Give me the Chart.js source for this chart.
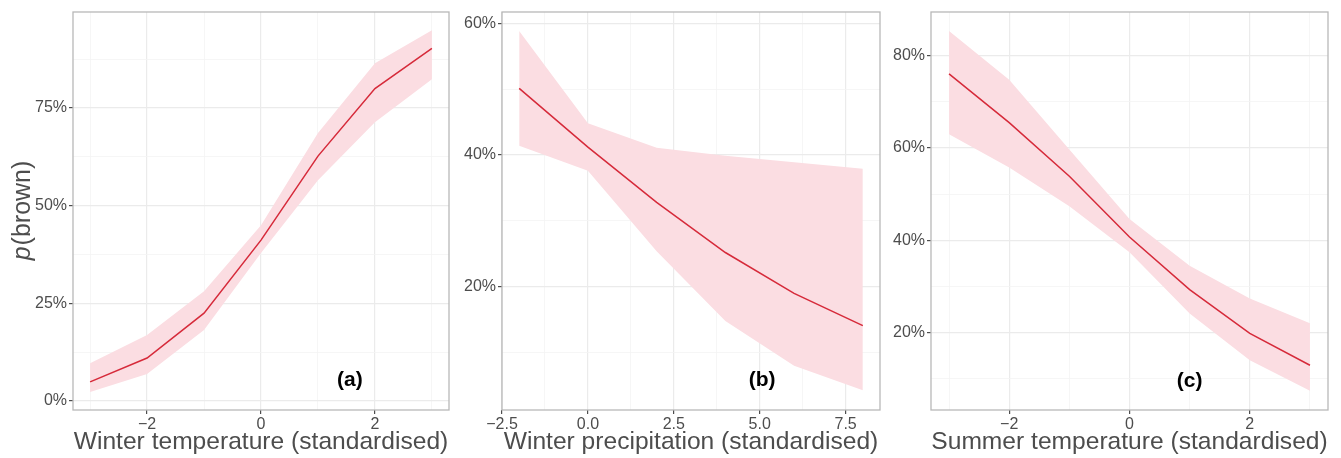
<!DOCTYPE html>
<html>
<head>
<meta charset="utf-8">
<script src="https://cdn.jsdelivr.net/npm/chart.js@4"></script>
<style>
  body { margin: 0; background: #fff; width: 1341px; height: 458px; overflow: hidden; position: relative; }
  .panel { position: absolute; top: 0; height: 458px; }
</style>
</head>
<body>
<div class="panel" style="left:0;width:455px"><canvas id="chartA"></canvas></div>
<div class="panel" style="left:452px;width:434px"><canvas id="chartB"></canvas></div>
<div class="panel" style="left:886px;width:455px"><canvas id="chartC"></canvas></div>
<script>
// (a) winter temperature
const winterTempX = [-3, -2, -1, 0, 1, 2, 3];
const winterTempFit = [4.9, 11.0, 22.5, 41.2, 62.7, 80.0, 90.3];
const winterTempUpper = [9.7, 16.9, 28.1, 45.0, 68.6, 86.5, 94.9];
const winterTempLower = [2.3, 6.9, 18.2, 37.9, 56.5, 71.4, 82.4];

// (b) winter precipitation
const winterPrecX = [-2, 0, 2, 4, 6, 8];
const winterPrecFit = [50.1, 41.2, 32.8, 25.2, 19.0, 14.1];
const winterPrecUpper = [58.8, 44.8, 41.1, 39.9, 38.9, 37.9];
const winterPrecLower = [41.4, 37.6, 25.4, 14.8, 8.0, 4.3];

// (c) summer temperature
const summerTempX = [-3, -2, -1, 0, 1, 2, 3];
const summerTempFit = [76.1, 65.5, 53.9, 40.7, 29.3, 19.8, 12.9];
const summerTempUpper = [85.4, 74.8, 59.7, 44.6, 34.5, 27.4, 22.0];
const summerTempLower = [63.0, 55.8, 47.4, 37.4, 24.1, 14.0, 7.4];

const xTicksA = [-2, 0, 2];
const yTicksA = [0, 25, 50, 75];
const xTicksB = [-2.5, 0, 2.5, 5, 7.5];
const yTicksB = [20, 40, 60];
const xTicksC = [-2, 0, 2];
const yTicksC = [20, 40, 60, 80];

const FONT = "'Liberation Sans', Arial, sans-serif";
const LINE = "#d62a3a";
const RIBBON = "#fbdde2";

function pts(xs, ys) {
  return xs.map((x, i) => ({ x: x, y: ys[i] }));
}
function isMajor(v, list) {
  return list.some(t => Math.abs(t - v) < 1e-6);
}
function fmtNum(v, dec) {
  const s = Math.abs(v).toFixed(dec);
  return v < -1e-9 ? "\u2212" + s : s;
}

// box round the panel, y title and the (a)/(b)/(c) tag
const panelDecor = {
  id: "panelDecor",
  afterDraw(chart, args, opts) {
    const ctx = chart.ctx;
    const a = chart.chartArea;
    ctx.save();
    ctx.strokeStyle = "#b8b8b8";
    ctx.lineWidth = 1.3;
    ctx.strokeRect(a.left, a.top, a.right - a.left, a.bottom - a.top);
    const px = chart.scales.x.getPixelForValue(opts.tagX);
    const py = chart.scales.y.getPixelForValue(opts.tagY);
    ctx.fillStyle = "#000";
    ctx.font = "bold 21px " + FONT;
    ctx.textAlign = "center";
    ctx.textBaseline = "middle";
    ctx.fillText(opts.tag, px, py);
    if (opts.yTitle) {
      ctx.translate(23, (a.top + a.bottom) / 2);
      ctx.rotate(-Math.PI / 2);
      ctx.fillStyle = "#4d4d4d";
      ctx.textBaseline = "middle";
      ctx.textAlign = "left";
      ctx.font = "italic 25px " + FONT;
      const w1 = ctx.measureText("p").width;
      ctx.font = "25px " + FONT;
      const w2 = ctx.measureText("(brown)").width;
      const start = -(w1 + w2) / 2;
      ctx.font = "italic 25px " + FONT;
      ctx.fillText("p", start, 0);
      ctx.font = "25px " + FONT;
      ctx.fillText("(brown)", start + w1 + 1, 0);
    }
    ctx.restore();
  }
};

function makePanel(id, cfg) {
  return new Chart(document.getElementById(id), {
    type: "line",
    data: {
      datasets: [
        {
          data: pts(cfg.xs, cfg.upper),
          borderWidth: 0,
          pointRadius: 0,
          backgroundColor: RIBBON,
          fill: "+1",
          tension: 0,
          order: 2
        },
        {
          data: pts(cfg.xs, cfg.lower),
          borderWidth: 0,
          pointRadius: 0,
          fill: false,
          order: 2
        },
        {
          data: pts(cfg.xs, cfg.fit),
          borderColor: LINE,
          borderWidth: 1.5,
          pointRadius: 0,
          fill: false,
          tension: 0,
          order: 1
        }
      ]
    },
    options: {
      responsive: true,
      maintainAspectRatio: false,
      animation: false,
      layout: { padding: { left: cfg.padLeft, right: cfg.padRight, top: 12, bottom: 0 } },
      plugins: {
        legend: { display: false },
        tooltip: { enabled: false },
        panelDecor: { tag: cfg.tag, tagX: cfg.tagX, tagY: cfg.tagY, yTitle: cfg.yTitle }
      },
      scales: {
        x: {
          type: "linear",
          min: cfg.xMin,
          max: cfg.xMax,
          afterFit: s => { s.height = 48; },
          border: { display: false },
          grid: {
            color: c => isMajor(c.tick.value, cfg.xTicks) ? "#ebebeb" : "#f4f4f4",
            lineWidth: c => isMajor(c.tick.value, cfg.xTicks) ? 1.2 : 0.8,
            tickColor: c => isMajor(c.tick.value, cfg.xTicks) ? "#4d4d4d" : "rgba(0,0,0,0)",
            tickLength: 4
          },
          ticks: {
            stepSize: cfg.xStep,
            includeBounds: false,
            autoSkip: false,
            maxRotation: 0,
            padding: 1,
            color: "#4d4d4d",
            font: { family: FONT, size: 16 },
            callback: v => isMajor(v, cfg.xTicks) ? fmtNum(v, cfg.xDec) : ""
          },
          title: {
            display: true,
            text: cfg.xTitle,
            color: "#4d4d4d",
            font: { family: FONT, size: 24.6 },
            padding: { top: 0, bottom: 1 }
          }
        },
        y: {
          type: "linear",
          min: cfg.yMin,
          max: cfg.yMax,
          afterFit: s => { s.width = cfg.yWidth; },
          border: { display: false },
          grid: {
            color: c => isMajor(c.tick.value, cfg.yTicks) ? "#ebebeb" : "#f4f4f4",
            lineWidth: c => isMajor(c.tick.value, cfg.yTicks) ? 1.2 : 0.8,
            tickColor: c => isMajor(c.tick.value, cfg.yTicks) ? "#4d4d4d" : "rgba(0,0,0,0)",
            tickLength: 4
          },
          ticks: {
            stepSize: cfg.yStep,
            includeBounds: false,
            autoSkip: false,
            padding: 2,
            color: "#4d4d4d",
            font: { family: FONT, size: 16 },
            callback: v => isMajor(v, cfg.yTicks) ? v + "%" : ""
          }
        }
      }
    },
    plugins: [panelDecor]
  });
}

makePanel("chartA", {
  xs: winterTempX, fit: winterTempFit, upper: winterTempUpper, lower: winterTempLower,
  xTicks: xTicksA, yTicks: yTicksA, xStep: 1, yStep: 12.5, xDec: 0,
  xMin: -3.3, xMax: 3.3, yMin: -2.3, yMax: 99.6,
  padLeft: 0, padRight: 6, yWidth: 73,
  xTitle: "Winter temperature (standardised)",
  tag: "(a)", tagX: 1.56, tagY: 5.4, yTitle: true
});

makePanel("chartB", {
  xs: winterPrecX, fit: winterPrecFit, upper: winterPrecUpper, lower: winterPrecLower,
  xTicks: xTicksB, yTicks: yTicksB, xStep: 1.25, yStep: 10, xDec: 1,
  xMin: -2.5, xMax: 8.5, yMin: 1.3, yMax: 61.7,
  padLeft: 0, padRight: 6, yWidth: 50,
  xTitle: "Winter precipitation (standardised)",
  tag: "(b)", tagX: 5.07, tagY: 5.8, yTitle: false
});

makePanel("chartC", {
  xs: summerTempX, fit: summerTempFit, upper: summerTempUpper, lower: summerTempLower,
  xTicks: xTicksC, yTicks: yTicksC, xStep: 1, yStep: 10, xDec: 0,
  xMin: -3.3, xMax: 3.3, yMin: 3.2, yMax: 89.5,
  padLeft: 0, padRight: 13, yWidth: 45,
  xTitle: "Summer temperature (standardised)",
  tag: "(c)", tagX: 1.0, tagY: 9.4, yTitle: false
});
</script>
</body>
</html>
